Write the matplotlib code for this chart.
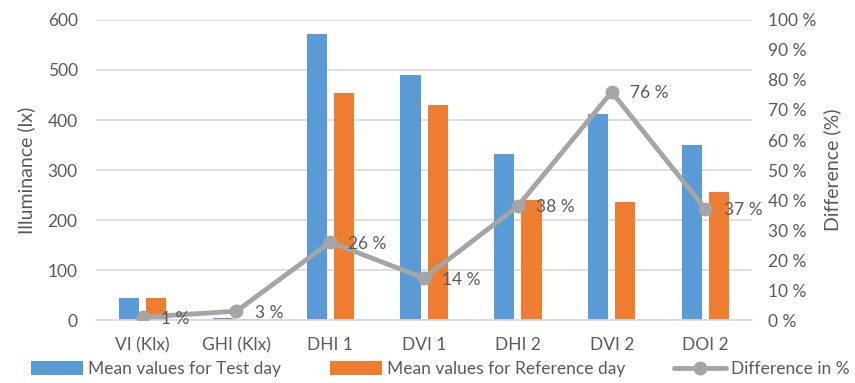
import matplotlib.pyplot as plt
import numpy as np

plt.rcParams["font.family"] = ["Lato", "DejaVu Sans"]

# Mean illuminance values and relative difference per sensor
categories = ["VI (Klx)", "GHI (Klx)", "DHI 1", "DVI 1", "DHI 2", "DVI 2", "DOI 2"]
test_day = [45, 4, 571, 489, 332, 413, 351]
reference_day = [45, 3, 453, 429, 241, 237, 256]
difference_pct = [1, 3, 26, 14, 38, 76, 37]

BLUE = "#5B9BD5"
ORANGE = "#ED7D31"
GREY = "#A5A5A5"
TEXT = "#595959"
GRID = "#D9D9D9"

fig = plt.figure(figsize=(8.55, 3.83), dpi=100)
ax = fig.add_axes([0.112, 0.164, 0.768, 0.784])
ax2 = ax.twinx()

x = np.arange(len(categories))
w = 0.215
gap = 0.075
ax.bar(x - (w + gap) / 2, test_day, w, color=BLUE, label="Mean values for Test day", zorder=2)
ax.bar(x + (w + gap) / 2, reference_day, w, color=ORANGE, label="Mean values for Reference day", zorder=2)

ax2.plot(x, difference_pct, color=GREY, lw=3.5, marker="o", ms=9,
         label="Difference in %", zorder=3, solid_capstyle="round")
for xi, v in zip(x, difference_pct):
    ax2.annotate(f"{v} %", (xi, v), xytext=(13, -1), textcoords="offset points",
                 ha="left", va="center", fontsize=12.5, color=TEXT)

ax.set_xlim(-0.5, len(categories) - 0.5)
ax.set_ylim(0, 600)
ax.set_yticks(range(0, 601, 100))
ax2.set_ylim(0, 100)
ax2.set_yticks(range(0, 101, 10))
ax2.set_yticklabels([f"{t} %" for t in range(0, 101, 10)])

ax.set_xticks(x)
ax.set_xticklabels(categories)
ax.yaxis.grid(True, color=GRID, lw=1.2, zorder=0)
ax.set_axisbelow(True)

for a in (ax, ax2):
    for s in a.spines.values():
        s.set_visible(False)
    a.tick_params(length=0, colors=TEXT, labelsize=12.5)
ax.spines["bottom"].set_visible(True)
ax.spines["bottom"].set_color(GRID)
ax.spines["bottom"].set_linewidth(1.2)
ax.tick_params(axis="x", pad=12)
ax.tick_params(axis="y", pad=13)
ax2.tick_params(axis="y", pad=11)

ax.set_ylabel("Illuminance (lx)", fontsize=14, color=TEXT, labelpad=9)
ax2.set_ylabel("Difference (%)", fontsize=14, color=TEXT, labelpad=5)

h1, l1 = ax.get_legend_handles_labels()
h2, l2 = ax2.get_legend_handles_labels()
fig.legend(h1 + h2, l1 + l2, loc="lower center", bbox_to_anchor=(0.515, -0.025), ncol=3,
           frameon=False, fontsize=12.5, labelcolor=TEXT, handlelength=3.0,
           handleheight=0.8, columnspacing=2.8, handletextpad=0.3)

fig.savefig("out.png", dpi=100)
